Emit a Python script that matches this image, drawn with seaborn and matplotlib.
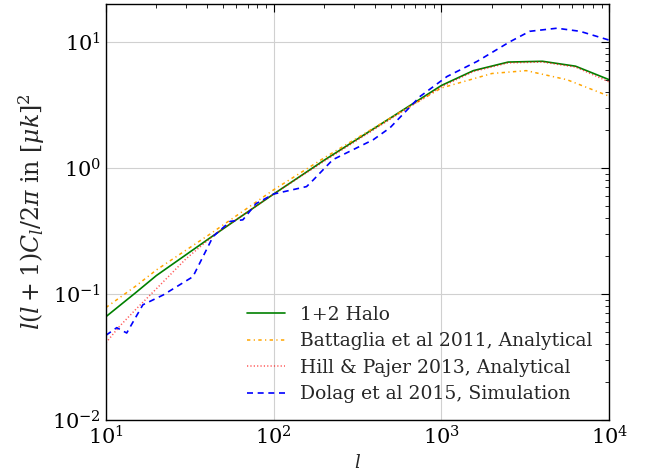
import matplotlib
matplotlib.use("Agg")
import matplotlib.pyplot as plt
import seaborn as sns
import numpy as np

# multipole l and l(l+1)C_l/2pi values
halo_l = [10, 15, 20, 42, 100, 200, 500, 1000, 1550, 2500, 4000, 6300, 10000]
halo_cl = [0.066, 0.102, 0.14, 0.28, 0.62, 1.15, 2.5, 4.5, 5.9, 6.9, 7.0, 6.4, 5.0]

batt_l = [10, 15, 20, 42, 100, 200, 500, 1000, 2000, 3200, 5600, 10000]
batt_cl = [0.078, 0.115, 0.155, 0.30, 0.67, 1.2, 2.5, 4.3, 5.6, 5.9, 5.0, 3.7]

hill_l = [10, 12, 15, 20, 30, 45, 100, 200, 500, 1000, 1550, 2500, 4000, 6300, 10000]
hill_cl = [0.041, 0.055, 0.075, 0.11, 0.19, 0.30, 0.62, 1.13, 2.45, 4.4, 5.8, 6.8, 6.9, 6.3, 4.8]

dolag_l = [10, 11.6, 13.3, 16.6, 21.9, 33, 43.5, 55, 65.5, 78.5, 100, 157, 172, 225,
           392, 494, 745, 1080, 1630, 2560, 3360, 4880, 6700, 10000]
dolag_cl = [0.047, 0.054, 0.049, 0.082, 0.098, 0.137, 0.285, 0.376, 0.387, 0.52, 0.62,
            0.71, 0.80, 1.16, 1.67, 2.08, 3.68, 5.3, 6.98, 10.0, 12.1, 12.8, 12.1, 10.3]

sns.set_style("whitegrid")
plt.rcParams['font.family'] = ['DejaVu Serif']
plt.rcParams['mathtext.fontset'] = 'dejavuserif'
plt.rcParams['xtick.direction'] = 'in'
plt.rcParams['ytick.direction'] = 'in'

fig = plt.figure(figsize=(6.46, 4.73), dpi=100)
ax = fig.add_axes([0.164, 0.112, 0.779, 0.880])

sns.lineplot(x=halo_l, y=halo_cl, ax=ax, color='green', linestyle='-', lw=1.2, label='1+2 Halo')
sns.lineplot(x=batt_l, y=batt_cl, ax=ax, color='orange', linestyle=(0, (2.2, 2.2, 0.8, 2.2)),
             lw=1.1, label='Battaglia et al 2011, Analytical')
sns.lineplot(x=hill_l, y=hill_cl, ax=ax, color='red', linestyle=(0, (0.8, 1.4)), lw=1.1,
             alpha=0.65, label='Hill & Pajer 2013, Analytical')
sns.lineplot(x=dolag_l, y=dolag_cl, ax=ax, color='blue', linestyle=(0, (3.6, 2.8)), lw=1.2,
             label='Dolag et al 2015, Simulation')

ax.set_xscale('log')
ax.set_yscale('log')
ax.set_xlim(10, 1e4)
ax.set_ylim(0.01, 20)

for side in ax.spines.values():
    side.set_color('black')
    side.set_linewidth(1.0)
ax.grid(True, which='major', color='#d0d0d0', lw=0.8)
ax.grid(False, which='minor')
ax.tick_params(which='both', top=True, right=True, direction='in', colors='black')
ax.tick_params(which='major', length=6, width=0.8, labelsize=15)
ax.tick_params(which='minor', length=3, width=0.6)

ax.set_xlabel('$l$', fontsize=13)
ax.set_ylabel(r'$l(l+1)C_l/2\pi$ in $[\mu k]^2$', fontsize=17)

leg = ax.legend(loc='lower right', frameon=False, fontsize=13.5, handlelength=2.0,
                handletextpad=0.8, borderaxespad=0.5, labelspacing=0.45)

fig.savefig('out.png', dpi=100)
